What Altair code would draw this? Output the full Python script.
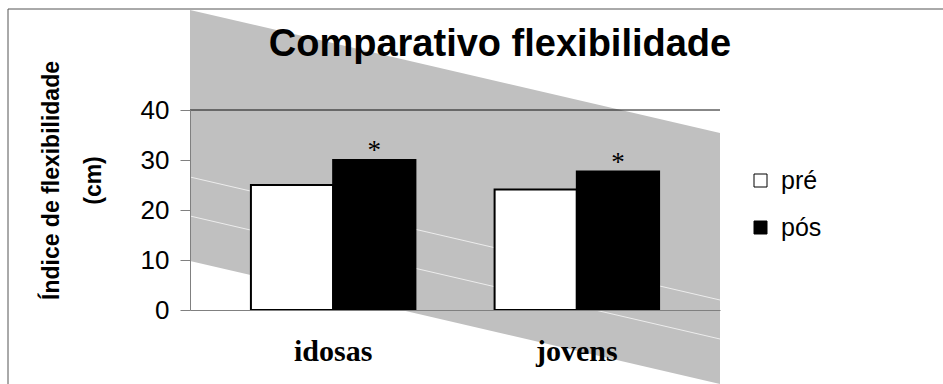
import altair as alt
import pandas as pd

# --- data ---
grupos = ["idosas", "idosas", "jovens", "jovens"]
momentos = ["pré", "pós", "pré", "pós"]
valores = [25.0, 30.0, 24.1, 27.7]
marcas = ["", "*", "", "*"]

titulo = ["Comparativo flexibilidade"]

# decorative diagonal grey band of the original figure (y in axis units)
faixa_x = [0, 1]
faixa_topo = [60.0, 35.4]
faixa_base = [9.8, -14.8]
# two faint white streaks running inside the band
linha_a = [26.6, 2.0]
linha_b = [18.8, -5.8]

y_ticks = [0, 10, 20, 30, 40]

df = pd.DataFrame({"grupo": grupos, "momento": momentos, "valor": valores, "marca": marcas})
df_faixa = pd.DataFrame({"x": faixa_x, "topo": faixa_topo, "base": faixa_base})
df_linhas = pd.DataFrame({
    "x": faixa_x + faixa_x,
    "y": linha_a + linha_b,
    "linha": ["a", "a", "b", "b"],
})
df_um = pd.DataFrame({"k": [0]})
df_titulo = pd.DataFrame({"t": titulo})

yscale = alt.Scale(domain=[0, 40], nice=False, zero=True)
yaxis = alt.Axis(
    values=y_ticks,
    title=["Índice de flexibilidade", "(cm)"],
    titleFont="Liberation Sans",
    titleFontSize=23,
    titleFontWeight="bold",
    titleColor="black",
    titleAngle=-90,
    titleX=-139,
    titleY=70,
    titleAlign="center",
    titleBaseline="middle",
    titleLineHeight=42,
    labelFont="Liberation Sans",
    labelFontSize=26,
    labelColor="black",
    labelPadding=11,
    tickSize=10,
    tickColor="#808080",
    domainColor="#808080",
    grid=False,
    zindex=1,
)
xq = alt.X("x:Q", scale=alt.Scale(domain=[0, 1], nice=False, zero=False), axis=None)
xband = alt.Scale(domain=["idosas", "jovens"], paddingInner=0.325, paddingOuter=0.25)
xoff = alt.XOffset("momento:N", scale=alt.Scale(domain=["pré", "pós"], paddingInner=0, paddingOuter=0), sort=["pré", "pós"])

faixa = alt.Chart(df_faixa).mark_area(color="#c0c0c0", opacity=1).encode(
    x=xq,
    y=alt.Y("topo:Q", scale=yscale, axis=yaxis),
    y2="base:Q",
)

linhas = alt.Chart(df_linhas).mark_line(color="white", strokeWidth=1, opacity=0.7).encode(
    x=xq,
    y=alt.Y("y:Q", scale=yscale, axis=yaxis),
    detail="linha:N",
)

regua40 = alt.Chart(df_um).mark_rule(color="#111111", strokeWidth=1).encode(
    y=alt.datum(40, scale=yscale, axis=yaxis),
)

barras = alt.Chart(df).mark_bar(stroke="black", strokeWidth=2).encode(
    x=alt.X("grupo:N", scale=xband, sort=["idosas", "jovens"], axis=alt.Axis(
        title=None, labelAngle=0, ticks=False,
        labelFont="Liberation Serif", labelFontWeight="bold", labelFontSize=30,
        labelColor="black", labelPadding=26, domainColor="#808080", zindex=1)),
    xOffset=xoff,
    y=alt.Y("valor:Q", scale=yscale, axis=yaxis),
    fill=alt.Fill("momento:N", scale=alt.Scale(domain=["pré", "pós"], range=["white", "black"]),
                  legend=alt.Legend(
                      title=None, orient="none", legendX=558, legendY=58,
                      symbolType="square", symbolSize=169, symbolStrokeColor="black",
                      symbolStrokeWidth=1, labelFont="Liberation Sans", labelFontSize=25,
                      labelColor="black", rowPadding=21, labelOffset=8)),
)

estrelas = alt.Chart(df).mark_text(font="Liberation Serif", fontSize=27, color="black",
                                   baseline="alphabetic", dy=-1).encode(
    x=alt.X("grupo:N", scale=xband, sort=["idosas", "jovens"], axis=None),
    xOffset=xoff,
    y=alt.Y("valor:Q", scale=yscale, axis=yaxis),
    text="marca:N",
)

texto_titulo = alt.Chart(df_titulo).mark_text(
    font="Liberation Sans", fontSize=38, fontWeight="bold", color="black",
    align="center", baseline="alphabetic").encode(
    x=alt.value(310), y=alt.value(-54), text="t:N")

moldura_esq = alt.Chart(df_um).mark_rule(color="#555555", strokeWidth=1).encode(
    x=alt.value(-182), y=alt.value(-101), y2=alt.value(280))
moldura_topo = alt.Chart(df_um).mark_rule(color="#555555", strokeWidth=1).encode(
    x=alt.value(-182), x2=alt.value(760), y=alt.value(-101))

chart = alt.layer(
    faixa, linhas, regua40, barras, estrelas, texto_titulo, moldura_esq, moldura_topo
).resolve_scale(x="independent").properties(
    width=530,
    height=200,
    padding={"left": 190, "top": 110, "right": 223, "bottom": 74},
    autosize=alt.AutoSizeParams(type="none"),
    background="white",
).configure_view(stroke=None)

chart.save("out.html", embed_options={"renderer": "svg", "actions": False})
